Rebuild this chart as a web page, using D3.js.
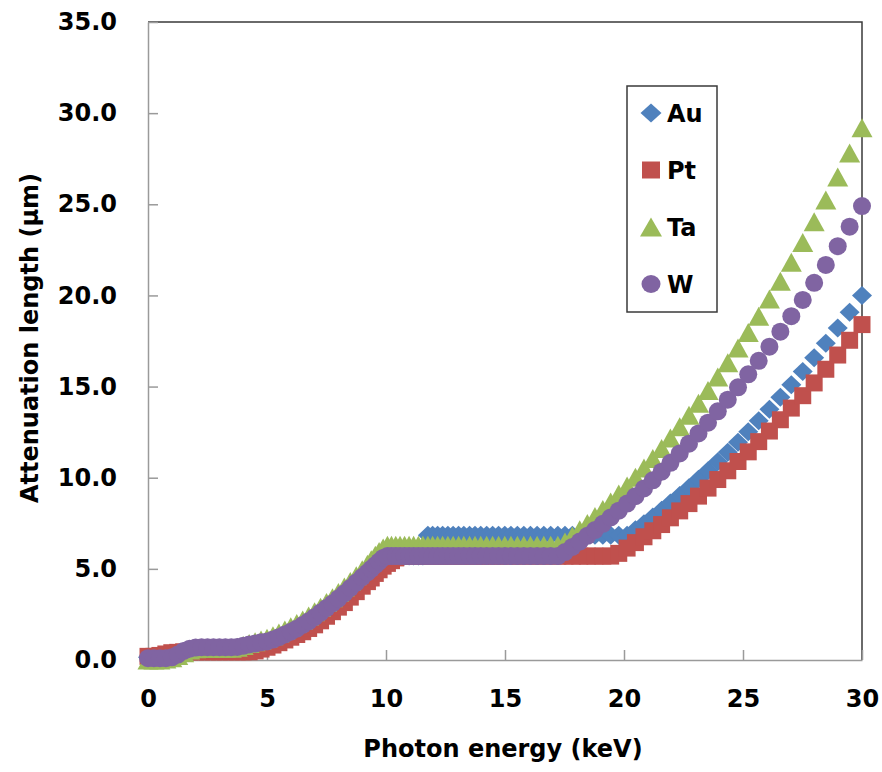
<!DOCTYPE html>
<html>
<head>
<meta charset="utf-8">
<script src="https://cdn.jsdelivr.net/npm/d3@7"></script>
<style>
  body { margin: 0; background: #fff; }
  svg text { font-family: "DejaVu Sans", Verdana, sans-serif; font-weight: bold; fill: #000; }
</style>
</head>
<body>
<div id="viz"></div>
<script>
const width = 882;
const height = 772;
const margin = {top: 22, right: 20, bottom: 112, left: 148};

// Photon energy (keV), shared by all four series
const energy = [
  0, 0.25, 0.5, 0.75, 1, 1.25, 1.5, 1.75, 2, 2.25,
  2.5, 2.75, 3, 3.25, 3.5, 3.75, 4, 4.25, 4.5, 4.75,
  5, 5.25, 5.5, 5.75, 6, 6.25, 6.5, 6.75, 7, 7.25,
  7.5, 7.75, 8, 8.25, 8.5, 8.75, 9,
  9.22, 9.38, 9.55, 9.71, 9.88, 10.06, 10.23, 10.41, 10.59, 10.78,
  10.97, 11.16, 11.36, 11.55, 11.76, 11.96, 12.17, 12.38, 12.6, 12.82,
  13.05, 13.27, 13.51, 13.74, 13.98, 14.23, 14.48, 14.73, 14.99, 15.25,
  15.52, 15.79, 16.07, 16.35, 16.63, 16.92, 17.22, 17.52, 17.83, 18.14,
  18.46, 18.78, 19.11, 19.44, 19.78, 20.13, 20.48, 20.84, 21.21, 21.58,
  21.95, 22.34, 22.73, 23.13, 23.53, 23.94, 24.36, 24.79, 25.22, 25.66,
  26.11, 26.57, 27.03, 27.51, 27.99, 28.48, 28.98, 29.48, 30
];

// Attenuation length (um)
const au = [
  0.15, 0.15, 0.15, 0.15, 0.18, 0.3, 0.45, 0.55, 0.55, 0.55,
  0.55, 0.55, 0.55, 0.55, 0.55, 0.55, 0.6, 0.65, 0.72, 0.8,
  0.88, 0.98, 1.1, 1.25, 1.4, 1.56, 1.74, 1.93, 2.14, 2.37,
  2.62, 2.88, 3.14, 3.42, 3.72, 4.02, 4.33,
  4.6, 4.82, 5.05, 5.25, 5.45, 5.6, 5.7, 5.7, 5.7, 5.7,
  5.7, 5.7, 5.7, 5.7, 6.85, 6.85, 6.85, 6.85, 6.85, 6.85,
  6.85, 6.85, 6.85, 6.85, 6.85, 6.85, 6.85, 6.85, 6.85, 6.85,
  6.85, 6.85, 6.85, 6.85, 6.85, 6.85, 6.85, 6.85, 6.85, 6.85,
  6.85, 6.85, 6.85, 6.85, 6.85, 6.85, 7.14, 7.48, 7.84, 8.21,
  8.61, 9.02, 9.45, 9.91, 10.38, 10.88, 11.4, 11.95, 12.52, 13.12,
  13.75, 14.41, 15.1, 15.82, 16.58, 17.38, 18.21, 19.08, 20
];
const pt = [
  0.2, 0.2, 0.25, 0.33, 0.4, 0.42, 0.45, 0.45, 0.45, 0.45,
  0.45, 0.45, 0.45, 0.45, 0.45, 0.45, 0.45, 0.45, 0.5, 0.6,
  0.7, 0.82, 0.95, 1.1, 1.25, 1.4, 1.55, 1.73, 1.93, 2.15,
  2.4, 2.65, 2.9, 3.15, 3.45, 3.75, 4.05,
  4.3, 4.5, 4.75, 4.95, 5.15, 5.3, 5.45, 5.6, 5.7, 5.7,
  5.7, 5.7, 5.7, 5.7, 5.7, 5.7, 5.7, 5.7, 5.7, 5.7,
  5.7, 5.7, 5.7, 5.7, 5.7, 5.7, 5.7, 5.7, 5.7, 5.7,
  5.7, 5.7, 5.7, 5.7, 5.7, 5.7, 5.7, 5.7, 5.7, 5.7,
  5.7, 5.7, 5.7, 5.7, 5.85, 6.14, 6.44, 6.76, 7.09, 7.43,
  7.8, 8.18, 8.58, 8.99, 9.43, 9.9, 10.38, 10.89, 11.42, 11.98,
  12.56, 13.18, 13.82, 14.5, 15.2, 15.95, 16.73, 17.54, 18.4
];
const ta = [
  0, 0, 0, 0.05, 0.12, 0.25, 0.4, 0.55, 0.62, 0.65,
  0.65, 0.65, 0.65, 0.65, 0.65, 0.7, 0.8, 0.9, 1.0, 1.1,
  1.2, 1.33, 1.48, 1.65, 1.82, 2.0, 2.2, 2.42, 2.65, 2.9,
  3.15, 3.42, 3.7, 4.0, 4.3, 4.62, 4.95,
  5.25, 5.5, 5.75, 5.95, 6.15, 6.3, 6.3, 6.3, 6.3, 6.3,
  6.3, 6.3, 6.3, 6.3, 6.3, 6.3, 6.3, 6.3, 6.3, 6.3,
  6.3, 6.3, 6.3, 6.3, 6.3, 6.3, 6.3, 6.3, 6.3, 6.3,
  6.3, 6.3, 6.3, 6.3, 6.3, 6.3, 6.3, 6.48, 6.8, 7.14,
  7.49, 7.87, 8.26, 8.67, 9.1, 9.55, 10.03, 10.53, 11.05, 11.6,
  12.18, 12.79, 13.42, 14.09, 14.79, 15.53, 16.3, 17.11, 17.96, 18.86,
  19.8, 20.78, 21.82, 22.9, 24.04, 25.24, 26.5, 27.82, 29.2
];
const w = [
  0.1, 0.1, 0.1, 0.1, 0.15, 0.3, 0.5, 0.62, 0.68, 0.7,
  0.7, 0.7, 0.7, 0.7, 0.7, 0.72, 0.78, 0.85, 0.9, 0.97,
  1.02, 1.12, 1.25, 1.4, 1.55, 1.72, 1.92, 2.12, 2.35, 2.6,
  2.85, 3.1, 3.37, 3.65, 3.95, 4.25, 4.55,
  4.8, 5.0, 5.2, 5.4, 5.6, 5.7, 5.7, 5.7, 5.7, 5.7,
  5.7, 5.7, 5.7, 5.7, 5.7, 5.7, 5.7, 5.7, 5.7, 5.7,
  5.7, 5.7, 5.7, 5.7, 5.7, 5.7, 5.7, 5.7, 5.7, 5.7,
  5.7, 5.7, 5.7, 5.7, 5.7, 5.7, 5.7, 5.92, 6.2, 6.5,
  6.81, 7.13, 7.47, 7.82, 8.19, 8.58, 8.99, 9.41, 9.86, 10.33,
  10.82, 11.33, 11.87, 12.43, 13.02, 13.64, 14.28, 14.96, 15.67, 16.41,
  17.19, 18.01, 18.86, 19.75, 20.69, 21.67, 22.7, 23.77, 24.9
];

const seriesNames = ['Au', 'Pt', 'Ta', 'W'];
const seriesValues = [au, pt, ta, w];
const seriesColors = ['#4F81BD', '#C0504D', '#9BBB59', '#8064A2'];
const seriesShapes = ['diamond', 'square', 'triangle', 'circle'];

const xTicks = [0, 5, 10, 15, 20, 25, 30];
const yTicks = [0, 5, 10, 15, 20, 25, 30, 35];

// marker outline, w x h box centred on 0,0
const markerPath = (shape, mw, mh) => {
  const a = mw / 2, b = mh / 2;
  if (shape === 'diamond') return `M0,${-b}L${a},0L0,${b}L${-a},0Z`;
  if (shape === 'square') return `M${-a},${-b}H${a}V${b}H${-a}Z`;
  if (shape === 'triangle') return `M0,${-b}L${a},${b}L${-a},${b}Z`;
  return `M${-a},0A${a},${b} 0 1,0 ${a},0A${a},${b} 0 1,0 ${-a},0Z`;
};
const markerSize = {diamond: [20, 19], square: [17, 17], triangle: [21, 19], circle: [18, 18]};

const svg = d3.select('#viz')
  .append('svg')
  .attr('width', width)
  .attr('height', height)
  .attr('viewBox', [0, 0, width, height]);

const xScale = d3.scaleLinear()
  .domain([0, 30])
  .range([margin.left, width - margin.right]);

const yScale = d3.scaleLinear()
  .domain([0, 35])
  .range([height - margin.bottom, margin.top]);

// plot area frame (top and right)
svg.append('path')
  .attr('d', `M${xScale(0)},${yScale(35)}H${xScale(30)}V${yScale(0)}`)
  .attr('fill', 'none')
  .attr('stroke', '#3a3a3a')
  .attr('stroke-width', 1.5);

// Y axis
const yAxis = svg.append('g')
  .attr('transform', `translate(${xScale(0)}, 0)`)
  .call(d3.axisLeft(yScale)
    .tickValues(yTicks)
    .tickFormat(d3.format('.1f'))
    .tickSizeInner(-10)
    .tickSizeOuter(0)
    .tickPadding(31));

// X axis
const xAxis = svg.append('g')
  .attr('transform', `translate(0, ${yScale(0)})`)
  .call(d3.axisBottom(xScale)
    .tickValues(xTicks)
    .tickFormat(d3.format('d'))
    .tickSizeInner(-10)
    .tickSizeOuter(0)
    .tickPadding(30));

[yAxis, xAxis].forEach(ax => {
  ax.select('.domain').attr('stroke', '#9a9a9a').attr('stroke-width', 1.5);
  ax.selectAll('.tick line').attr('stroke', '#9a9a9a').attr('stroke-width', 1.5);
  ax.selectAll('.tick text')
    .style('font-family', '"DejaVu Sans", Verdana, sans-serif')
    .style('font-weight', 'bold')
    .style('font-size', '24px')
    .attr('fill', '#000');
});

// markers, drawn in series order
seriesNames.forEach((name, s) => {
  const shape = seriesShapes[s];
  const [mw, mh] = markerSize[shape];
  svg.append('g')
    .attr('class', 'series')
    .selectAll('path')
    .data(energy.map((e, i) => ({e: e, v: seriesValues[s][i]})))
    .join('path')
      .attr('d', markerPath(shape, mw, mh))
      .attr('transform', d => `translate(${xScale(d.e)},${yScale(d.v)})`)
      .attr('fill', seriesColors[s]);
});

// legend
const legend = svg.append('g').attr('transform', 'translate(627, 86)');
legend.append('rect')
  .attr('width', 90)
  .attr('height', 226)
  .attr('fill', '#fff')
  .attr('stroke', '#3a3a3a')
  .attr('stroke-width', 1.5);

seriesNames.forEach((name, s) => {
  const shape = seriesShapes[s];
  const [mw, mh] = markerSize[shape];
  const row = legend.append('g').attr('transform', `translate(0, ${27 + s * 57})`);
  row.append('path')
    .attr('d', markerPath(shape, mw + 1, mh))
    .attr('transform', 'translate(24, 0)')
    .attr('fill', seriesColors[s]);
  row.append('text')
    .attr('x', 40)
    .attr('dy', '0.36em')
    .style('font-size', '24px')
    .text(name);
});

// axis titles
svg.append('text')
  .attr('transform', 'translate(29, 338) rotate(-90)')
  .attr('text-anchor', 'middle')
  .attr('dy', '0.36em')
  .style('font-size', '24px')
  .text('Attenuation length (µm)');

svg.append('text')
  .attr('x', 503)
  .attr('y', 748)
  .attr('text-anchor', 'middle')
  .attr('dy', '0.36em')
  .style('font-size', '24px')
  .text('Photon energy (keV)');
</script>
</body>
</html>
